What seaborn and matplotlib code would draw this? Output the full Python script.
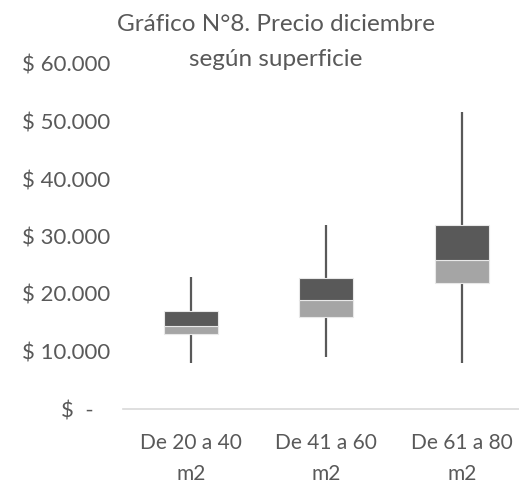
import matplotlib
matplotlib.use("Agg")
import matplotlib.pyplot as plt
import seaborn as sns
import pandas as pd
import numpy as np

# Price distribution by surface range (December)
categories = ["De 20 a 40\nm2", "De 41 a 60\nm2", "De 61 a 80\nm2"]
minimum = [8000, 9000, 8000]
q1 = [13000, 16000, 22000]
median = [14500, 19000, 26000]
q3 = [17000, 22700, 32000]
maximum = [23000, 32000, 51700]

y_ticks = [0, 10000, 20000, 30000, 40000, 50000, 60000]
y_tick_labels = ["$  -   ", "$ 10.000", "$ 20.000", "$ 30.000",
                 "$ 40.000", "$ 50.000", "$ 60.000"]

sns.set_theme(style="white")
plt.rcParams["font.family"] = ["Lato", "DejaVu Sans"]

text_color = "#595959"
dark = "#595959"
light = "#A5A5A5"

df = pd.DataFrame({
    "cat": categories,
    "lower": np.array(median) - np.array(q1),
    "upper": np.array(q3) - np.array(median),
    "q1": q1,
    "median": median,
})

fig = plt.figure(figsize=(5.19, 4.83), dpi=100)
ax = fig.add_axes([123 / 519, 1 - 409 / 483, 396 / 519, 345 / 483])

# Whiskers from minimum to maximum
ax.vlines(range(len(categories)), minimum, maximum, color=dark, linewidth=1.6, zorder=1)

# Lower half of the box (Q1 to median) and upper half (median to Q3)
sns.barplot(data=df, x="cat", y="lower", bottom=df["q1"], color=light,
            width=0.4, saturation=1, edgecolor="#E8E8E8", linewidth=0.8,
            ax=ax, zorder=2)
sns.barplot(data=df, x="cat", y="upper", bottom=df["median"], color=dark,
            width=0.4, saturation=1, edgecolor="#E8E8E8", linewidth=0.8,
            ax=ax, zorder=2)

ax.set_xlim(-0.5, -0.5 + 396 / 135.5)
ax.set_ylim(0, 60000)
ax.set_yticks(y_ticks)
ax.set_yticklabels(y_tick_labels)
ax.set_xlabel("")
ax.set_ylabel("")

for side in ["top", "right", "left"]:
    ax.spines[side].set_visible(False)
ax.spines["bottom"].set_color("#D9D9D9")
ax.spines["bottom"].set_linewidth(1.2)

ax.tick_params(axis="y", length=0, pad=9, labelsize=16, labelcolor=text_color)
ax.tick_params(axis="x", length=0, pad=17, labelsize=15, labelcolor=text_color)
for lbl in ax.get_xticklabels():
    lbl.set_linespacing(1.7)

fig.text(276 / 519, 1 - 42 / 483, "Gráfico N°8. Precio diciembre\nsegún superficie",
         ha="center", va="center", fontsize=17.5, color=text_color,
         linespacing=1.8)

fig.savefig("out.png", dpi=100)
